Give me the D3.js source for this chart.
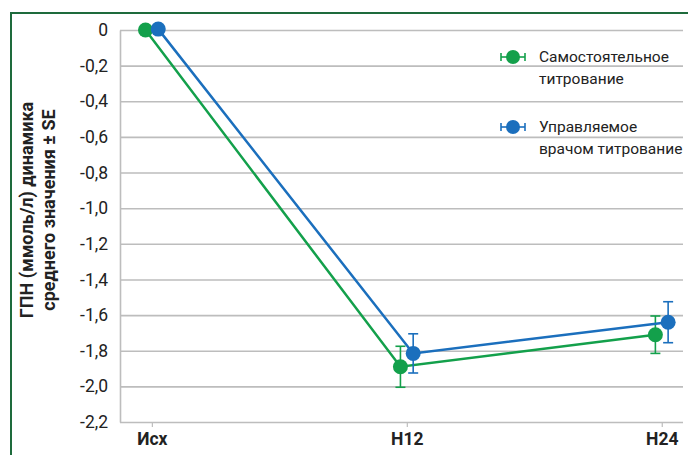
<!DOCTYPE html>
<html>
<head>
<meta charset="utf-8">
<script src="https://cdn.jsdelivr.net/npm/d3@7"></script>
<style>
  body { margin: 0; background: #fff; }
  .tick text { font-family: "Liberation Sans Narrow", "Roboto", sans-serif; }
</style>
</head>
<body>
<div id="chart"></div>
<script>
// categories and their position in hours
const categories = ["Исх", "Н12", "Н24"];
const hours = [0, 12, 24];
const yTicks = [0, -0.2, -0.4, -0.6, -0.8, -1.0, -1.2, -1.4, -1.6, -1.8, -2.0, -2.2];

// series
const selfNames = ["Самостоятельное", "титрование"];
const selfMean = [0, -1.89, -1.71];
const selfSE = [0, 0.115, 0.105];

const docNames = ["Управляемое", "врачом титрование"];
const docMean = [0.005, -1.815, -1.64];
const docSE = [0, 0.11, 0.115];

const series = [
    {names: selfNames, mean: selfMean, se: selfSE, shift: -0.3, color: "#13a04b"},
    {names: docNames, mean: docMean, se: docSE, shift: 0.3, color: "#1b6fbd"}
];

let W = 688, H = 455;
let plot = {left: 120, right: 683, top: 30, bottom: 422};

let svg = d3.select("#chart")
    .append("svg")
    .attr("width", W)
    .attr("height", H);

// frame
svg.append("path")
    .attr("d", `M11,${H + 5} L11,13 L${W + 5},13`)
    .attr("fill", "none")
    .attr("stroke", "#1e6b3c")
    .attr("stroke-width", 2);

let x = d3.scaleLinear().domain([-1.5, 25]).range([plot.left, plot.right]);
let y = d3.scaleLinear().domain([0, -2.2]).range([plot.top, plot.bottom]);

// horizontal grid
svg.append("g")
    .attr("transform", `translate(${plot.left},0)`)
    .call(d3.axisLeft(y).tickValues(yTicks).tickSize(-(plot.right - plot.left)).tickFormat(""))
    .call(g => g.select(".domain").remove())
    .call(g => g.selectAll("line").attr("stroke", "#bdbdbd").attr("stroke-width", 1.6));

// y axis
svg.append("g")
    .attr("transform", `translate(${plot.left},0)`)
    .call(d3.axisLeft(y).tickValues(yTicks).tickSize(0).tickPadding(12)
        .tickFormat(d => d === 0 ? "0" : d3.format(".1f")(d).replace(".", ",").replace("−", "-")))
    .call(g => g.select(".domain").attr("stroke", "#bdbdbd").attr("stroke-width", 1.6))
    .call(g => g.selectAll("text").attr("font-size", 17.5).attr("fill", "#222"));

// x axis
svg.append("g")
    .attr("transform", `translate(0,${plot.bottom})`)
    .call(d3.axisBottom(x).tickValues(hours).tickSize(5).tickPadding(6)
        .tickFormat((d, i) => categories[i]))
    .call(g => g.select(".domain").remove())
    .call(g => g.selectAll("line").attr("stroke", "#bdbdbd").attr("stroke-width", 1.2))
    .call(g => g.selectAll("text").attr("font-size", 17.5).attr("font-weight", "bold").attr("fill", "#222"));

// y title
let title = svg.append("text")
    .attr("transform", "translate(33,210) rotate(-90)")
    .attr("text-anchor", "middle")
    .attr("font-family", "'Liberation Sans Narrow', Roboto, sans-serif")
    .attr("font-weight", "bold")
    .attr("font-size", 18)
    .attr("fill", "#222");
title.append("tspan").attr("x", 0).attr("dy", 0).text("ГПН (ммоль/л) динамика");
title.append("tspan").attr("x", 0).attr("dy", 22).text("среднего значения ± SE");

// series
let line = d3.line();
series.forEach(function(s) {
    let pts = hours.map((h, i) => [x(h + s.shift), y(s.mean[i])]);
    svg.append("path")
        .attr("d", line(pts))
        .attr("fill", "none")
        .attr("stroke", s.color)
        .attr("stroke-width", 2.5);

    let g = svg.append("g");
    hours.forEach(function(h, i) {
        if (s.se[i] > 0) {
            let cx = x(h + s.shift);
            let y1 = y(s.mean[i] + s.se[i]), y2 = y(s.mean[i] - s.se[i]);
            g.append("line").attr("x1", cx).attr("x2", cx).attr("y1", y1).attr("y2", y2)
                .attr("stroke", s.color).attr("stroke-width", 1.6);
            [y1, y2].forEach(yy => g.append("line")
                .attr("x1", cx - 5).attr("x2", cx + 5).attr("y1", yy).attr("y2", yy)
                .attr("stroke", s.color).attr("stroke-width", 1.6));
        }
        g.append("circle")
            .attr("cx", x(h + s.shift))
            .attr("cy", y(s.mean[i]))
            .attr("r", 7.5)
            .attr("fill", s.color);
    });
});

// legend
series.forEach(function(s, k) {
    let ly = 57 + k * 70;
    let lg = svg.append("g").attr("transform", `translate(513,${ly})`);
    lg.append("line").attr("x1", -12).attr("x2", 12).attr("stroke", s.color).attr("stroke-width", 1.6);
    lg.append("line").attr("x1", -12).attr("x2", -12).attr("y1", -4).attr("y2", 4).attr("stroke", s.color).attr("stroke-width", 1.6);
    lg.append("line").attr("x1", 12).attr("x2", 12).attr("y1", -4).attr("y2", 4).attr("stroke", s.color).attr("stroke-width", 1.6);
    lg.append("circle").attr("r", 7).attr("fill", s.color);
    let t = lg.append("text")
        .attr("x", 26)
        .attr("y", 5)
        .attr("font-family", "'Liberation Sans Narrow', Roboto, sans-serif")
        .attr("font-size", 15.5)
        .attr("fill", "#222");
    s.names.forEach((n, j) => t.append("tspan").attr("x", 26).attr("dy", j ? 22 : 0).text(n));
});
</script>
</body>
</html>
